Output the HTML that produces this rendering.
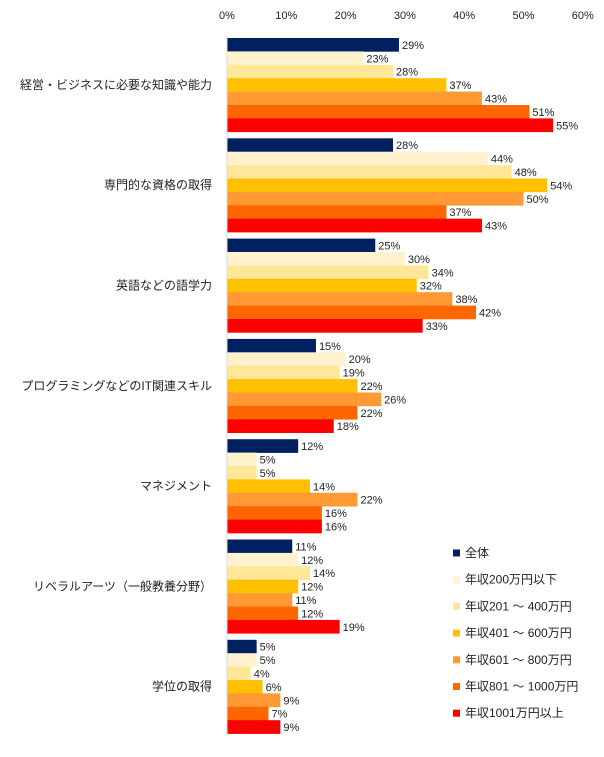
<!DOCTYPE html>
<html><head><meta charset="utf-8"><style>
body{margin:0;background:#fff;}
svg text{font-family:"Liberation Sans","Noto Sans CJK JP",sans-serif;font-size:11px;fill:#222;}
svg text.big{font-size:12px;}
</style></head><body>
<svg id="chart" width="604" height="752" xmlns="http://www.w3.org/2000/svg"></svg>
<script>
const categories=["経営・ビジネスに必要な知識や能力","専門的な資格の取得","英語などの語学力","プログラミングなどのIT関連スキル","マネジメント","リベラルアーツ（一般教養分野）","学位の取得"];
const seriesNames=["全体","年収200万円以下","年収201 ～ 400万円","年収401 ～ 600万円","年収601 ～ 800万円","年収801 ～ 1000万円","年収1001万円以上"];
const s0=[29,28,25,15,12,11,5];
const s1=[23,44,30,20,5,12,5];
const s2=[28,48,34,19,5,14,4];
const s3=[37,54,32,22,14,12,6];
const s4=[43,50,38,26,22,11,9];
const s5=[51,37,42,22,16,12,7];
const s6=[55,43,33,18,16,19,9];
const ticks=[0,10,20,30,40,50,60];
const series=[s0,s1,s2,s3,s4,s5,s6];
const colors=["#002060","#fff2cc","#ffe699","#ffc000","#ff9933","#ff6600","#ff0000"];
const NS="http://www.w3.org/2000/svg";
const svg=document.getElementById('chart');
const x0=227,pxPer=5.93,gTop=38,gStep=100.3,bh=13.4;
const xs=v=>x0+v*pxPer;
function el(t,a){const e=document.createElementNS(NS,t);for(const k in a)e.setAttribute(k,a[k]);svg.appendChild(e);return e;}
ticks.forEach(t=>{const e=el('text',{x:xs(t),y:19,'text-anchor':'middle'});e.textContent=t+'%';

});
categories.forEach((c,i)=>{
  const gy=gTop+i*gStep;
  const e=el('text',{x:212,y:gy+bh*3.5+4,'text-anchor':'end','class':'big'});e.textContent=c;
  
  
  series.forEach((s,j)=>{
    const y=gy+j*bh;
    const r=el('rect',{x:x0,y:y,width:xs(s[i])-x0,height:bh+0.3,fill:colors[j]});
    
    
    const t=el('text',{x:xs(s[i])+3,y:y+bh-2.5});t.textContent=s[i]+'%';
    
    
  });
});
const ax=el('line',{x1:x0,y1:36,x2:x0,y2:736,stroke:'#d9d9d9','stroke-width':1});


seriesNames.forEach((n,j)=>{
  const y=553+j*26.7;
  const r=el('rect',{x:453,y:y-3.5,width:7,height:7,fill:colors[j]});
  
  
  const t=el('text',{x:465,y:y+4,'class':'big'});t.textContent=n;
  
  
});
</script>
</body></html>
